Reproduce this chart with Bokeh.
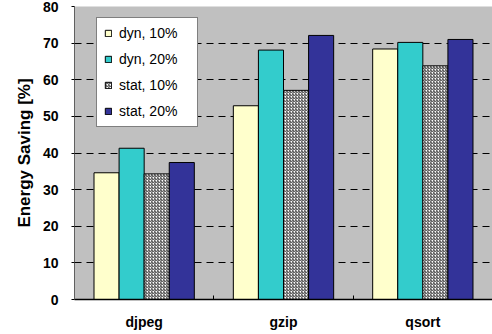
from bokeh.plotting import figure
from bokeh.models import Range1d, FixedTicker, Legend, LegendItem, ColumnDataSource
from bokeh.embed import file_html
from bokeh.resources import INLINE

categories = ["djpeg", "gzip", "qsort"]
dyn10 = [34.6, 52.9, 68.4]
dyn20 = [41.3, 68.1, 70.2]
stat10 = [34.3, 57.1, 63.8]
stat20 = [37.4, 72.1, 71.0]
series_names = ["dyn, 10%", "dyn, 20%", "stat, 10%", "stat, 20%"]
y_ticks = [0, 10, 20, 30, 40, 50, 60, 70, 80]

FONT = "Liberation Sans"

p = figure(width=492, height=334, output_backend="svg", toolbar_location=None,
           x_range=Range1d(0, 3), y_range=Range1d(0, 80),
           min_border_left=74, min_border_top=6, min_border_bottom=35, min_border_right=0)
p.background_fill_color = "#C0C0C0"
p.border_fill_color = "white"
p.outline_line_color = None

centers = [i + 0.5 for i in range(len(categories))]
offsets = [-0.27, -0.09, 0.09, 0.27]
bw = 0.18

styles = [
    dict(fill_color="#FFFFCC"),
    dict(fill_color="#33CCCC"),
    dict(fill_color="white", hatch_pattern="right_diagonal_line", hatch_color="#333333", hatch_scale=3, hatch_weight=1),
    dict(fill_color="#333399"),
]
renderers = []
for vals, off, st in zip([dyn10, dyn20, stat10, stat20], offsets, styles):
    src = ColumnDataSource(dict(x=[c + off for c in centers], top=vals))
    r = p.vbar(x="x", top="top", bottom=0, width=bw, source=src,
               line_color="black", line_width=1, **st)
    renderers.append(r)

# x axis
p.xaxis.ticker = FixedTicker(ticks=centers, minor_ticks=[1, 2])
p.xaxis.major_label_overrides = {c: n for c, n in zip(centers, categories)}
p.xaxis.major_tick_line_color = None
p.xaxis.major_tick_in = 0
p.xaxis.major_tick_out = 0
p.xaxis.minor_tick_in = 4
p.xaxis.minor_tick_out = 0
p.xaxis.minor_tick_line_color = "black"
p.xaxis.axis_line_color = "black"
p.xaxis.axis_line_width = 1.5
p.xaxis.major_label_text_font = FONT
p.xaxis.major_label_text_font_style = "bold"
p.xaxis.major_label_text_font_size = "14px"
p.xaxis.major_label_text_color = "black"
p.xaxis.major_label_standoff = 14
p.xaxis.axis_label_standoff = 0
p.xgrid.grid_line_color = None

# y axis
p.yaxis.ticker = FixedTicker(ticks=y_ticks)
p.yaxis.major_tick_in = 0
p.yaxis.major_tick_out = 3
p.yaxis.minor_tick_line_color = None
p.yaxis.axis_line_color = "#606060"
p.yaxis.major_label_text_font = FONT
p.yaxis.major_label_text_font_style = "bold"
p.yaxis.major_label_text_font_size = "14px"
p.yaxis.major_label_text_color = "black"
p.yaxis.major_label_standoff = 13
p.yaxis.axis_label = "Energy Saving [%]"
p.yaxis.axis_label_text_font = FONT
p.yaxis.axis_label_text_font_style = "bold"
p.yaxis.axis_label_text_font_size = "17px"
p.yaxis.axis_label_text_color = "black"
p.yaxis.axis_label_standoff = 6
p.ygrid.ticker = FixedTicker(ticks=y_ticks[1:-1])
p.ygrid.grid_line_color = "black"
p.ygrid.grid_line_dash = "7 5"
p.ygrid.grid_line_width = 1

legend = Legend(items=[LegendItem(label=n, renderers=[r]) for n, r in zip(series_names, renderers)],
                location=(22, 172), orientation="vertical")
legend.background_fill_color = "white"
legend.background_fill_alpha = 1
legend.border_line_color = "black"
legend.border_line_width = 1
legend.label_text_font = FONT
legend.label_text_font_size = "14px"
legend.label_text_color = "black"
legend.glyph_width = 8
legend.glyph_height = 8
legend.label_height = 16
legend.label_width = 71
legend.label_standoff = 7
legend.spacing = 10
legend.padding = 7
legend.margin = 0
p.add_layout(legend, "center")

open("out.html", "w").write(file_html(p, INLINE))
